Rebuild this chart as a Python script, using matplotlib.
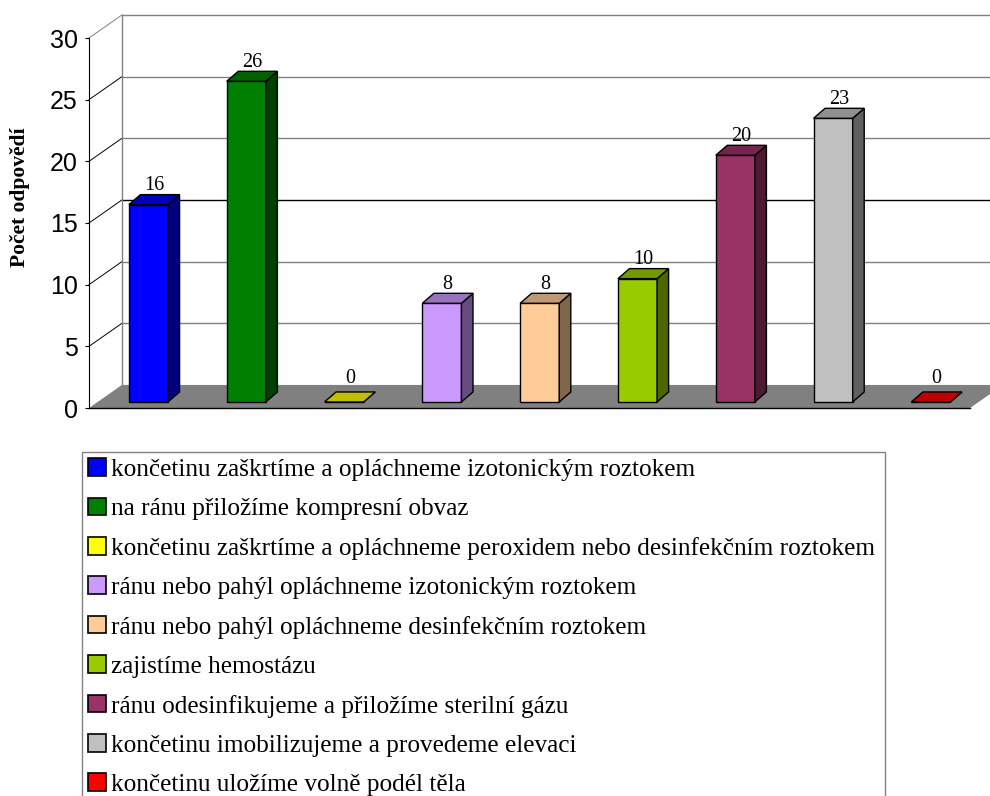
import matplotlib.pyplot as plt
from matplotlib.patches import Polygon, Patch
from matplotlib.colors import to_rgb

labels = [
    "končetinu zaškrtíme a opláchneme izotonickým roztokem",
    "na ránu přiložíme kompresní obvaz",
    "končetinu zaškrtíme a opláchneme peroxidem nebo desinfekčním roztokem",
    "ránu nebo pahýl opláchneme izotonickým roztokem",
    "ránu nebo pahýl opláchneme desinfekčním roztokem",
    "zajistíme hemostázu",
    "ránu odesinfikujeme a přiložíme sterilní gázu",
    "končetinu imobilizujeme a provedeme elevaci",
    "končetinu uložíme volně podél těla",
]
values = [16, 26, 0, 8, 8, 10, 20, 23, 0]
colors = ["#0000FF", "#008000", "#FFFF00", "#CC99FF", "#FFCC99",
          "#99CC00", "#993366", "#C0C0C0", "#FF0000"]
yticks = [0, 5, 10, 15, 20, 25, 30]

serif = "Liberation Serif"
sans = "Liberation Sans"

# pseudo 3d geometry (data units: x = category, y = count)
XL, XR = -0.608, 8.40      # floor front edge
DX, DY = 0.337, 1.87       # wall depth
BX, BY = 0.118, 0.81       # bar depth
Y0 = 0.49                  # bar base above the axis plane
W = 0.2                    # half bar width


def shade(c, f):
    r, g, b = to_rgb(c)
    return (r * f, g * f, b * f)


fig = plt.figure(figsize=(9.9, 7.96), dpi=100)
ax = fig.add_axes([89 / 990, 388 / 796, 901 / 990, 370 / 796])
ax.set_xlim(-0.608, 8.604)
ax.set_ylim(0, 30)
ax.set_yticks(yticks)
ax.set_xticks([])
for s in ["top", "right", "bottom"]:
    ax.spines[s].set_visible(False)
ax.spines["left"].set_linewidth(0.8)
ax.tick_params(axis="y", length=3, width=0.8, pad=5, labelsize=18)
for t in ax.get_yticklabels():
    t.set_fontfamily(sans)
ax.patch.set_alpha(0)

# back wall grid + side wall diagonals
for v in yticks[1:]:
    gc = "black" if v == 15 else "#808080"
    ax.plot([XL + DX, XR + DX + 0.2], [v + DY, v + DY], color=gc, lw=1.0,
            clip_on=False, zorder=1)
    dc = "#808080" if v == 30 else "black"
    ax.plot([XL, XL + DX], [v, v + DY], color=dc, lw=0.7, clip_on=False, zorder=1)
ax.plot([XL + DX, XL + DX], [DY, 30 + DY], color="#808080", lw=1.0,
        clip_on=False, zorder=1)

# floor
floor = Polygon([(XL, 0), (XR, 0), (XR + DX, DY), (XL + DX, DY)],
                closed=True, facecolor="#808080", edgecolor="none",
                clip_on=False, zorder=2)
ax.add_patch(floor)
ax.plot([XL, XR], [0, 0], color="black", lw=1.0, clip_on=False, zorder=2)

# bars
for i, (v, c) in enumerate(zip(values, colors)):
    x0, x1 = i - W, i + W
    y1 = Y0 + v
    front = Polygon([(x0, Y0), (x1, Y0), (x1, y1), (x0, y1)])
    top = Polygon([(x0, y1), (x1, y1), (x1 + BX, y1 + BY), (x0 + BX, y1 + BY)])
    side = Polygon([(x1, Y0), (x1 + BX, Y0 + BY), (x1 + BX, y1 + BY), (x1, y1)])
    for p, f in [(front, 1.0), (side, 0.5), (top, 0.75)]:
        p.set_facecolor(shade(c, f))
        p.set_edgecolor("black")
        p.set_linewidth(1.0)
        p.set_clip_on(False)
        p.set_zorder(3)
        ax.add_patch(p)
    gap = 0.35 if v else 0.75
    ax.text(i + BX / 2, y1 + BY + gap, str(v), ha="center", va="baseline",
            fontsize=14.5, family=serif, zorder=4)

fig.text(20 / 990, 1 - 197 / 796, "Počet odpovědí", rotation=90,
         fontsize=15.5, fontweight="bold", family=serif, ha="center", va="center")

handles = [Patch(facecolor=c, edgecolor="black", linewidth=1.2) for c in colors]
leg = fig.legend(handles, labels, loc="upper left",
                 bbox_to_anchor=(82 / 990, 0, 803 / 990, 1 - 452 / 796),
                 mode="expand", borderaxespad=0, fancybox=False,
                 prop={"family": serif, "size": 18.2},
                 handlelength=0.68, handleheight=0.68, handletextpad=0.2,
                 labelspacing=0.66, borderpad=0.25)
leg.get_frame().set_edgecolor("#808080")
leg.get_frame().set_linewidth(1.0)
leg.get_frame().set_alpha(1)

fig.savefig("out.png", dpi=100)
